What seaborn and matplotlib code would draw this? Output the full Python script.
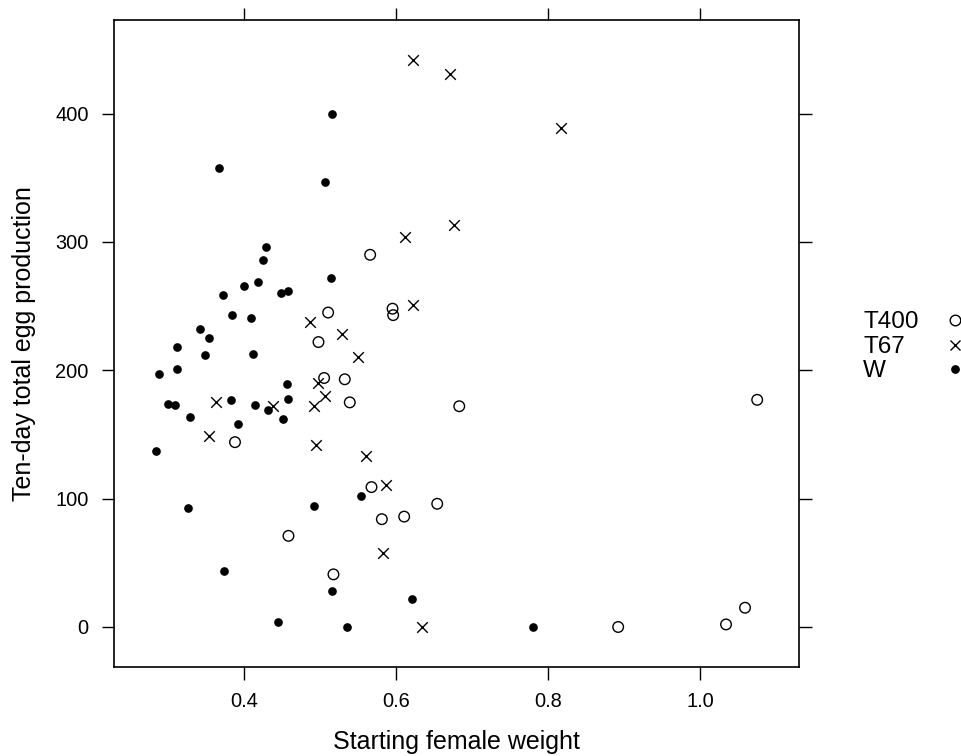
import matplotlib
matplotlib.use("Agg")
import matplotlib.pyplot as plt
import seaborn as sns
import pandas as pd
from matplotlib.lines import Line2D

# ---------------- data ----------------
groups = ["T400", "T67", "W"]

t400_weight = [0.5655, 0.5102, 0.4975, 0.5049, 0.5321, 0.5950, 0.5958, 0.5387,
               0.3876, 0.5673, 0.5809, 0.4580, 0.5172, 0.6828, 0.6538, 0.6103,
               0.892, 1.075, 1.059, 1.034]
t400_eggs = [290, 245, 222, 194, 193, 248, 243, 175,
             144, 109, 84, 71, 41, 172, 96, 86,
             0, 177, 15, 2]

t67_weight = [0.4861, 0.5291, 0.5489, 0.4971, 0.5058, 0.4914, 0.4377, 0.3622,
              0.3539, 0.4936, 0.5607, 0.5862, 0.5818, 0.6340, 0.6214, 0.6709,
              0.8162, 0.6108, 0.6753, 0.6217]
t67_eggs = [238, 228, 210, 190, 180, 172, 172, 175,
            149, 142, 133, 111, 58, 0, 442, 431,
            389, 304, 313, 251]

w_weight = [0.5150, 0.3663, 0.5067, 0.4281, 0.4250, 0.5137, 0.4175, 0.4000,
            0.3718, 0.4483, 0.4575, 0.3837, 0.4092, 0.3415, 0.3539, 0.3112,
            0.3486, 0.4109, 0.2879, 0.3112, 0.4567, 0.4571, 0.2990, 0.3085,
            0.3829, 0.4140, 0.4307, 0.4508, 0.3280, 0.3921, 0.2831, 0.3257,
            0.4911, 0.5533, 0.3731, 0.5159, 0.4444, 0.5348, 0.6200, 0.7797]
w_eggs = [400, 358, 347, 296, 286, 272, 269, 266,
          259, 260, 262, 243, 241, 232, 225, 218,
          212, 213, 197, 201, 189, 178, 174, 173,
          177, 173, 169, 162, 164, 158, 137, 93,
          94, 102, 44, 28, 4, 0, 22, 0]

x_ticks = [0.4, 0.6, 0.8, 1.0]
x_tick_labels = ["0.4", "0.6", "0.8", "1.0"]
y_ticks = [0, 100, 200, 300, 400]
y_tick_labels = ["0", "100", "200", "300", "400"]

x_label = "Starting female weight"
y_label = "Ten-day total egg production"

df = pd.concat([
    pd.DataFrame({"weight": t400_weight, "eggs": t400_eggs, "group": "T400"}),
    pd.DataFrame({"weight": t67_weight, "eggs": t67_eggs, "group": "T67"}),
    pd.DataFrame({"weight": w_weight, "eggs": w_eggs, "group": "W"}),
], ignore_index=True)

# ---------------- style ----------------
sns.set_theme(style="ticks")
plt.rcParams["font.family"] = ["Liberation Sans", "DejaVu Sans"]

W_PX, H_PX = 961, 756
fig = plt.figure(figsize=(W_PX / 100, H_PX / 100), dpi=100)
left, right, top, bottom = 113.5, 799.3, 20.0, 666.7
ax = fig.add_axes([left / W_PX, 1 - bottom / H_PX,
                   (right - left) / W_PX, (bottom - top) / H_PX])

styles = {
    "T400": dict(marker="o", s=58, facecolor="none", edgecolor="black", linewidth=1.0),
    "T67": dict(marker="x", s=58, color="black", linewidth=1.0),
    "W": dict(marker="o", s=39, color="black", edgecolor="black", linewidth=0),
}

for g in groups:
    sub = df[df["group"] == g]
    sns.scatterplot(data=sub, x="weight", y="eggs", ax=ax, legend=False,
                    zorder=3, **styles[g])
    if g == "T400":
        ax.collections[-1].set_facecolor("none")
        ax.collections[-1].set_edgecolor("black")

# lattice-style axis limits (7% padding)
xr = max(df["weight"]) - min(df["weight"])
yr = max(df["eggs"]) - min(df["eggs"])
ax.set_xlim(min(df["weight"]) - 0.07 * xr, max(df["weight"]) + 0.07 * xr)
ax.set_ylim(min(df["eggs"]) - 0.07 * yr, max(df["eggs"]) + 0.07 * yr)

ax.set_xticks(x_ticks)
ax.set_xticklabels(x_tick_labels)
ax.set_yticks(y_ticks)
ax.set_yticklabels(y_tick_labels)

for sp in ax.spines.values():
    sp.set_visible(True)
    sp.set_linewidth(1.2)
    sp.set_color("black")

ax.tick_params(axis="both", which="major", direction="out", length=9, width=1.0,
               color="black", labelsize=14.4, labelcolor="black",
               top=True, right=True, labeltop=False, labelright=False)
ax.tick_params(axis="x", pad=9.4)
ax.tick_params(axis="y", pad=8.9)

ax.set_xlabel(x_label, fontsize=18, color="black", va="center")
ax.set_ylabel(y_label, fontsize=18, color="black", va="center")
ax_h = bottom - top
ax_w = right - left
ax.xaxis.set_label_coords(0.5, (bottom - 742) / ax_h)
ax.yaxis.set_label_coords((24 - left) / ax_w, 0.5)
ax.grid(False)

# ---------------- key (text first, symbol after) ----------------
key_rows = [320, 345, 369]
key_text_x = 863
key_sym_x = 955
for g, yc in zip(groups, key_rows):
    fig.text(key_text_x / W_PX, 1 - (yc + 8.3) / H_PX, g, fontsize=17.5,
             ha="left", va="baseline", color="black")
    st = styles[g]
    if g == "T400":
        h = Line2D([key_sym_x / W_PX], [1 - yc / H_PX], transform=fig.transFigure,
                   marker="o", markersize=7.6, markerfacecolor="none",
                   markeredgecolor="black", markeredgewidth=1.0, linestyle="none")
    elif g == "T67":
        h = Line2D([key_sym_x / W_PX], [1 - yc / H_PX], transform=fig.transFigure,
                   marker="x", markersize=7.6, markeredgecolor="black",
                   markeredgewidth=1.0, linestyle="none")
    else:
        h = Line2D([key_sym_x / W_PX], [1 - yc / H_PX], transform=fig.transFigure,
                   marker="o", markersize=6.3, markerfacecolor="black",
                   markeredgecolor="black", markeredgewidth=0, linestyle="none")
    fig.add_artist(h)

fig.savefig("out.png", dpi=100, facecolor="white")
